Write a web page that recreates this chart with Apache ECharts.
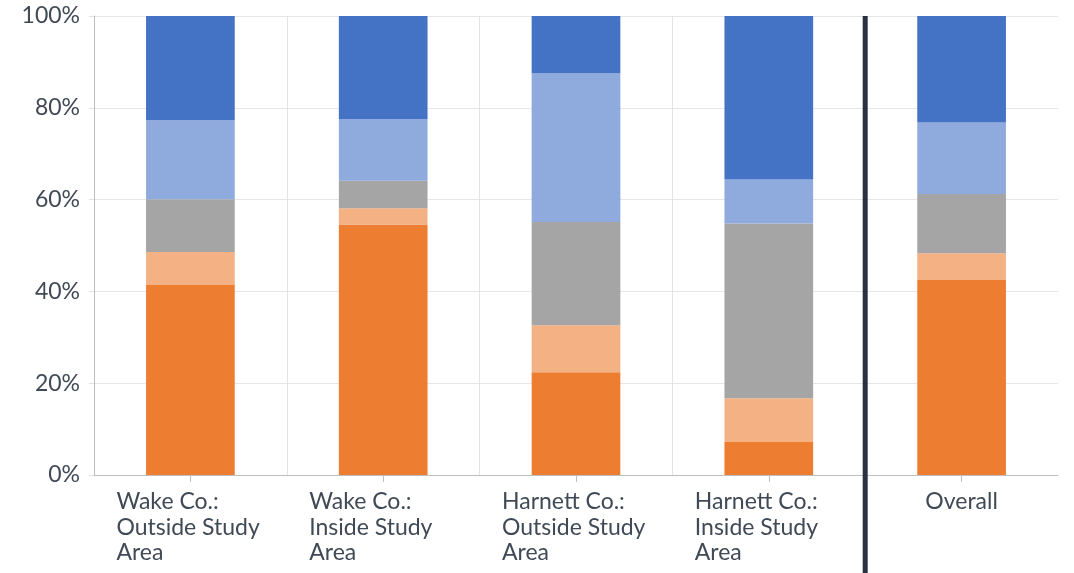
<!DOCTYPE html>
<html>
<head>
<meta charset="utf-8">
<script src="https://cdn.jsdelivr.net/npm/echarts@6/dist/echarts.min.js"></script>
<style>
  html, body { margin: 0; padding: 0; background: #fff; }
  #chart { width: 1074px; height: 573px; }
</style>
</head>
<body>
<div id="chart"></div>
<script>
// Categories along the x axis
const categories = [
  'Wake Co.:\nOutside Study\nArea',
  'Wake Co.:\nInside Study\nArea',
  'Harnett Co.:\nOutside Study\nArea',
  'Harnett Co.:\nInside Study\nArea',
  'Overall'
];

// Response shares (%) per category, stacked bottom to top
const seriesNames = ['s1', 's2', 's3', 's4', 's5'];
const orangeVals      = [41.4, 54.6, 22.4,  7.2, 42.5];
const lightOrangeVals = [ 7.2,  3.5, 10.2,  9.5,  5.8];
const grayVals        = [11.5,  6.0, 22.5, 38.1, 12.9];
const lightBlueVals   = [17.2, 13.4, 32.5,  9.6, 15.6];
const blueVals        = [22.7, 22.5, 12.4, 35.6, 23.2];

const yTicks = [0, 20, 40, 60, 80, 100];

const colors = ['#ED7D31', '#F4B183', '#A5A5A5', '#8FAADC', '#4472C4'];
const stacks = [orangeVals, lightOrangeVals, grayVals, lightBlueVals, blueVals];

const textColor = '#404a56';
const fontFamily = 'Lato, "Open Sans", sans-serif';
const fontSize = 23;
const lineH = 25.5;

const chart = echarts.init(document.getElementById('chart'), null, { renderer: 'canvas' });

const option = {
  animation: false,
  grid: { left: 94, right: 16, top: 16, bottom: 98, containLabel: false },
  xAxis: [
    {
      type: 'category',
      data: categories,
      boundaryGap: true,
      axisLine: { show: true, lineStyle: { color: '#bfbfbf', width: 1 } },
      axisTick: { show: true, alignWithLabel: true, length: 7, lineStyle: { color: '#bfbfbf' } },
      splitLine: { show: true, showMinLine: false, showMaxLine: false, lineStyle: { color: '#e3e3e3', width: 1 } },
      axisLabel: {
        interval: 0,
        margin: 14,
        color: textColor,
        fontFamily: fontFamily,
        fontSize: fontSize,
        lineHeight: lineH,
        formatter: function (v) {
          if (v.indexOf('\n') < 0) return '{c|' + v + '}';
          return v.split('\n').map(function (s) { return '{l|' + s + '}'; }).join('\n');
        },
        rich: {
          l: { width: 148, align: 'left', fontSize: fontSize, lineHeight: lineH, color: textColor, fontFamily: fontFamily },
          c: { align: 'center', fontSize: fontSize, lineHeight: lineH, color: textColor, fontFamily: fontFamily }
        }
      }
    },
    {
      // hidden linear helper axis spanning the category bands
      type: 'value',
      min: 0,
      max: categories.length,
      show: false
    }
  ],
  yAxis: {
    type: 'value',
    min: 0,
    max: 100,
    interval: 20,
    axisLine: { show: true, lineStyle: { color: '#bfbfbf', width: 1 } },
    axisTick: { show: true, length: 5, lineStyle: { color: '#e3e3e3' } },
    splitLine: { show: true, lineStyle: { color: '#e6e6e6', width: 1 } },
    axisLabel: {
      margin: 14,
      color: textColor,
      fontFamily: fontFamily,
      fontSize: fontSize,
      formatter: function (v) { return yTicks.indexOf(v) >= 0 ? v + '%' : ''; }
    }
  },
  series: stacks.map(function (vals, i) {
    return {
      name: seriesNames[i],
      type: 'bar',
      stack: 'total',
      barWidth: '46%',
      data: vals,
      itemStyle: { color: colors[i] },
      emphasis: { disabled: true }
    };
  })
};

chart.setOption(option);

// Heavy divider between the county groups and the overall bar
const divX = chart.convertToPixel({ xAxisIndex: 1 }, 4);
const divTop = chart.convertToPixel({ yAxisIndex: 0 }, 100);
chart.setOption({
  graphic: [{
    type: 'line',
    shape: { x1: divX, y1: divTop, x2: divX, y2: 573 },
    style: { stroke: '#2a3140', lineWidth: 5 },
    z: 100
  }]
});
</script>
</body>
</html>
